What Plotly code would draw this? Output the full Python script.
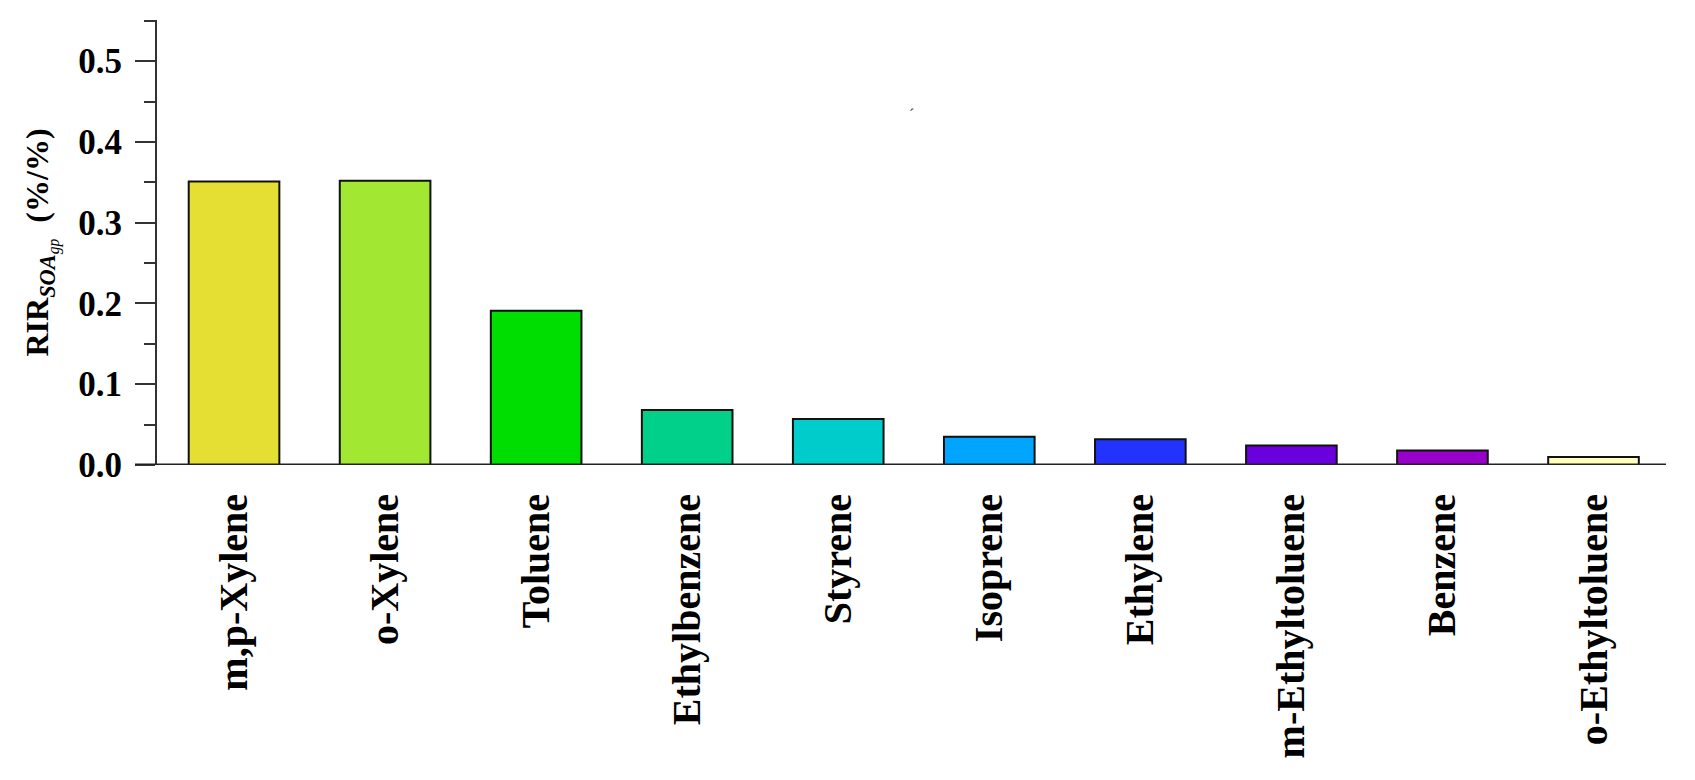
import plotly.graph_objects as go

categories = ["m,p-Xylene", "o-Xylene", "Toluene", "Ethylbenzene", "Styrene",
              "Isoprene", "Ethylene", "m-Ethyltoluene", "Benzene", "o-Ethyltoluene"]
values = [0.351, 0.352, 0.191, 0.068, 0.057, 0.035, 0.032, 0.024, 0.018, 0.010]
colors = ["#E6DF33", "#A2E832", "#00DD00", "#00D08A", "#00CCCC",
          "#00A5FF", "#2233FF", "#6A00DD", "#9900CC", "#FFFFBB"]
y_ticks = [0.0, 0.1, 0.2, 0.3, 0.4, 0.5]
y_tick_labels = ["0.0", "0.1", "0.2", "0.3", "0.4", "0.5"]

W, H = 1695, 780
L, R, T, B = 149, 37, 12, 323
PW, PH = W - L - R, H - T - B

fig = go.Figure()
fig.add_trace(go.Bar(
    x=categories, y=values,
    marker=dict(color=colors, line=dict(color="#111111", width=2)),
    width=0.6,
))

serif = "Liberation Serif, Times New Roman, serif"
fig.update_layout(
    width=W, height=H,
    margin=dict(l=L, r=R, t=T, b=B, autoexpand=False),
    plot_bgcolor="white", paper_bgcolor="white",
    showlegend=False,
    xaxis=dict(
        type="category", range=[-0.51, 9.48],
        showline=False, showgrid=False, zeroline=False,
        ticks="", tickangle=-90, ticklabelstandoff=20,
        tickfont=dict(family=serif, size=40, color="black", weight="bold"),
    ),
    yaxis=dict(
        range=[0, 0.551],
        tickvals=y_ticks, ticktext=y_tick_labels,
        showline=True, linecolor="#333333", linewidth=2,
        showgrid=False, zeroline=False,
        ticks="outside", ticklen=20, tickwidth=2, tickcolor="#333333",
        minor=dict(dtick=0.05, tick0=0, ticks="outside", ticklen=11,
                   tickwidth=2, tickcolor="#333333", showgrid=False),
        ticklabelstandoff=6,
        tickfont=dict(family=serif, size=35, color="black", weight="bold"),
        title=dict(
            text="<b>RIR</b><sub><i><b>SOA</b><sub>gp</sub></i></sub>  <b>(%/%)</b>",
            font=dict(family=serif, size=32, color="black"),
            standoff=20,
        ),
    ),
)

# baseline extending slightly left of the y axis
fig.add_shape(type="line", xref="paper", yref="y",
              x0=-22 / PW, x1=1, y0=0, y1=0,
              line=dict(color="#222222", width=3))

# small stray mark in the original
fig.add_annotation(x=(904 - L) / PW, y=(H - B - 96) / PH, xref="paper", yref="paper",
                   text="ˊ", showarrow=False,
                   font=dict(family=serif, size=16, color="#333333"))

fig.write_html("out.html")
